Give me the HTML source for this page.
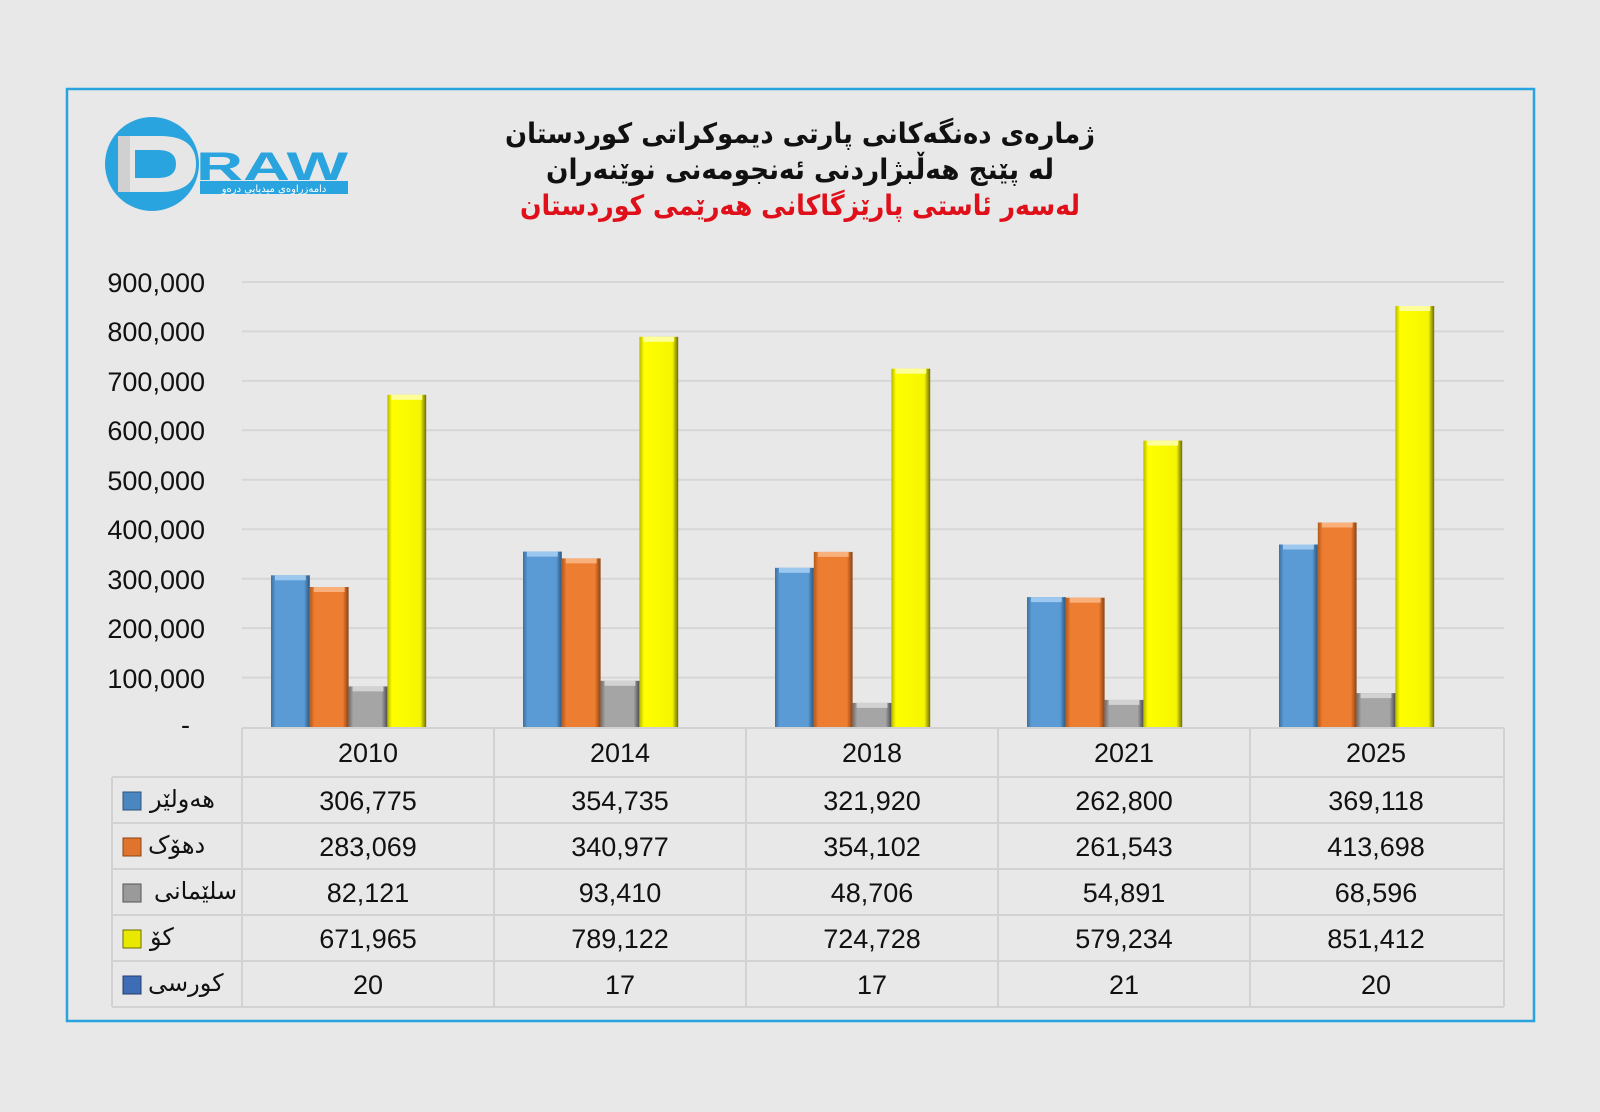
<!DOCTYPE html>
<html><head><meta charset="utf-8"><style>
html,body{margin:0;padding:0;background:#e8e8e8;}
svg{display:block;}
text{font-family:"Liberation Sans","DejaVu Sans",sans-serif;}
.ar{font-family:"DejaVu Sans","Noto Sans CJK SC",sans-serif;}
</style></head><body>
<svg width="1600" height="1112" viewBox="0 0 1600 1112" xmlns="http://www.w3.org/2000/svg">
<defs>
<linearGradient id="gb" x1="0" x2="1" y1="0" y2="0"><stop offset="0" stop-color="#3d6f9e"/><stop offset="0.12" stop-color="#5b9bd5"/><stop offset="0.85" stop-color="#5b9bd5"/><stop offset="1" stop-color="#2c557c"/></linearGradient>
<linearGradient id="go" x1="0" x2="1" y1="0" y2="0"><stop offset="0" stop-color="#b35a1d"/><stop offset="0.12" stop-color="#ed7d31"/><stop offset="0.85" stop-color="#ed7d31"/><stop offset="1" stop-color="#8a4313"/></linearGradient>
<linearGradient id="gg" x1="0" x2="1" y1="0" y2="0"><stop offset="0" stop-color="#6e6e6e"/><stop offset="0.12" stop-color="#a5a5a5"/><stop offset="0.85" stop-color="#a5a5a5"/><stop offset="1" stop-color="#4e4e4e"/></linearGradient>
<linearGradient id="gy" x1="0" x2="1" y1="0" y2="0"><stop offset="0" stop-color="#b8b800"/><stop offset="0.12" stop-color="#ffff00"/><stop offset="0.85" stop-color="#f5f500"/><stop offset="1" stop-color="#6d6d00"/></linearGradient>
</defs>
<rect x="0" y="0" width="1600" height="1112" fill="#e8e8e8"/>
<rect x="67" y="89" width="1467" height="932" fill="none" stroke="#29a3dd" stroke-width="2.5"/>

<!-- logo -->
<circle cx="152" cy="164" r="47" fill="#2aa4de"/>
<path d="M118 136 L160 136 Q196 136 196 164 Q196 192 160 192 L118 192 Z M135 150 L135 178 L158 178 Q176 178 176 164 Q176 150 158 150 Z" fill="#e6e6e6" fill-rule="evenodd"/>
<rect x="118" y="136" width="12" height="56" fill="#d0d0d0"/>
<text x="196" y="180" font-size="40" font-weight="bold" fill="#2aa4de" textLength="152" lengthAdjust="spacingAndGlyphs">RAW</text>
<rect x="200" y="181" width="148" height="13" fill="#2aa4de"/>
<text x="274" y="192" font-size="10" fill="#fff" text-anchor="middle" class="ar">دامەزراوەی میدیایی درەو</text>

<!-- title -->
<text x="800" y="143" font-size="28" font-weight="bold" text-anchor="middle" class="ar" textLength="590" lengthAdjust="spacingAndGlyphs" fill="#111">ژمارەی دەنگەکانی پارتی دیموکراتی کوردستان</text>
<text x="800" y="179" font-size="28" font-weight="bold" text-anchor="middle" class="ar" textLength="508" lengthAdjust="spacingAndGlyphs" fill="#111">لە پێنج هەڵبژاردنی ئەنجومەنی نوێنەران</text>
<text x="800" y="215" font-size="28" font-weight="bold" text-anchor="middle" class="ar" textLength="560" lengthAdjust="spacingAndGlyphs" fill="#e0101a">لەسەر ئاستی پارێزگاکانی هەرێمی کوردستان</text>

<!-- grid -->
<g stroke="#d6d6d6" stroke-width="2">
<line x1="242" x2="1504" y1="282" y2="282"/>
<line x1="242" x2="1504" y1="331.4" y2="331.4"/>
<line x1="242" x2="1504" y1="380.9" y2="380.9"/>
<line x1="242" x2="1504" y1="430.3" y2="430.3"/>
<line x1="242" x2="1504" y1="479.8" y2="479.8"/>
<line x1="242" x2="1504" y1="529.2" y2="529.2"/>
<line x1="242" x2="1504" y1="578.7" y2="578.7"/>
<line x1="242" x2="1504" y1="628.1" y2="628.1"/>
<line x1="242" x2="1504" y1="677.6" y2="677.6"/>
</g>
<g font-size="27" fill="#111" text-anchor="end">
<text x="205" y="292">900,000</text>
<text x="205" y="341">800,000</text>
<text x="205" y="391">700,000</text>
<text x="205" y="440">600,000</text>
<text x="205" y="490">500,000</text>
<text x="205" y="539">400,000</text>
<text x="205" y="589">300,000</text>
<text x="205" y="638">200,000</text>
<text x="205" y="688">100,000</text>
<text x="190" y="734">-</text>
</g>

<!-- bars -->
<g>
<rect x="271" y="575.3" width="38.8" height="151.7" fill="url(#gb)"/><rect x="275" y="575.3" width="30.8" height="5" fill="#9cc7ef"/>
<rect x="309.8" y="587" width="38.8" height="140" fill="url(#go)"/><rect x="313.8" y="587" width="30.8" height="5" fill="#f9b07a"/>
<rect x="348.6" y="686.4" width="38.8" height="40.6" fill="url(#gg)"/><rect x="352.6" y="686.4" width="30.8" height="5" fill="#d2d2d2"/>
<rect x="387.4" y="394.8" width="38.8" height="332.2" fill="url(#gy)"/><rect x="391.4" y="394.8" width="30.8" height="5" fill="#ffff99"/>

<rect x="523" y="551.6" width="38.8" height="175.4" fill="url(#gb)"/><rect x="527" y="551.6" width="30.8" height="5" fill="#9cc7ef"/>
<rect x="561.8" y="558.4" width="38.8" height="168.6" fill="url(#go)"/><rect x="565.8" y="558.4" width="30.8" height="5" fill="#f9b07a"/>
<rect x="600.6" y="680.8" width="38.8" height="46.2" fill="url(#gg)"/><rect x="604.6" y="680.8" width="30.8" height="5" fill="#d2d2d2"/>
<rect x="639.4" y="336.8" width="38.8" height="390.2" fill="url(#gy)"/><rect x="643.4" y="336.8" width="30.8" height="5" fill="#ffff99"/>

<rect x="775" y="567.8" width="38.8" height="159.2" fill="url(#gb)"/><rect x="779" y="567.8" width="30.8" height="5" fill="#9cc7ef"/>
<rect x="813.8" y="551.9" width="38.8" height="175.1" fill="url(#go)"/><rect x="817.8" y="551.9" width="30.8" height="5" fill="#f9b07a"/>
<rect x="852.6" y="702.9" width="38.8" height="24.1" fill="url(#gg)"/><rect x="856.6" y="702.9" width="30.8" height="5" fill="#d2d2d2"/>
<rect x="891.4" y="368.7" width="38.8" height="358.3" fill="url(#gy)"/><rect x="895.4" y="368.7" width="30.8" height="5" fill="#ffff99"/>

<rect x="1027" y="597.1" width="38.8" height="129.9" fill="url(#gb)"/><rect x="1031" y="597.1" width="30.8" height="5" fill="#9cc7ef"/>
<rect x="1065.8" y="597.7" width="38.8" height="129.3" fill="url(#go)"/><rect x="1069.8" y="597.7" width="30.8" height="5" fill="#f9b07a"/>
<rect x="1104.6" y="699.9" width="38.8" height="27.1" fill="url(#gg)"/><rect x="1108.6" y="699.9" width="30.8" height="5" fill="#d2d2d2"/>
<rect x="1143.4" y="440.6" width="38.8" height="286.4" fill="url(#gy)"/><rect x="1147.4" y="440.6" width="30.8" height="5" fill="#ffff99"/>

<rect x="1279" y="544.5" width="38.8" height="182.5" fill="url(#gb)"/><rect x="1283" y="544.5" width="30.8" height="5" fill="#9cc7ef"/>
<rect x="1317.8" y="522.5" width="38.8" height="204.5" fill="url(#go)"/><rect x="1321.8" y="522.5" width="30.8" height="5" fill="#f9b07a"/>
<rect x="1356.6" y="693.1" width="38.8" height="33.9" fill="url(#gg)"/><rect x="1360.6" y="693.1" width="30.8" height="5" fill="#d2d2d2"/>
<rect x="1395.4" y="306" width="38.8" height="421" fill="url(#gy)"/><rect x="1399.4" y="306" width="30.8" height="5" fill="#ffff99"/>
</g>

<!-- table -->
<g stroke="#d2d2d2" stroke-width="2" fill="none">
<line x1="242" x2="1504" y1="728" y2="728"/>
<line x1="112" x2="1504" y1="777" y2="777"/>
<line x1="112" x2="1504" y1="823" y2="823"/>
<line x1="112" x2="1504" y1="869" y2="869"/>
<line x1="112" x2="1504" y1="915" y2="915"/>
<line x1="112" x2="1504" y1="961" y2="961"/>
<line x1="112" x2="1504" y1="1007" y2="1007"/>
<line x1="112" x2="112" y1="777" y2="1007"/>
<line x1="242" x2="242" y1="728" y2="1007"/>
<line x1="494" x2="494" y1="728" y2="1007"/>
<line x1="746" x2="746" y1="728" y2="1007"/>
<line x1="998" x2="998" y1="728" y2="1007"/>
<line x1="1250" x2="1250" y1="728" y2="1007"/>
<line x1="1504" x2="1504" y1="728" y2="1007"/>
</g>
<g font-size="27" fill="#111" text-anchor="middle">
<text x="368" y="762">2010</text><text x="620" y="762">2014</text><text x="872" y="762">2018</text><text x="1124" y="762">2021</text><text x="1376" y="762">2025</text>
<text x="368" y="810">306,775</text><text x="620" y="810">354,735</text><text x="872" y="810">321,920</text><text x="1124" y="810">262,800</text><text x="1376" y="810">369,118</text>
<text x="368" y="856">283,069</text><text x="620" y="856">340,977</text><text x="872" y="856">354,102</text><text x="1124" y="856">261,543</text><text x="1376" y="856">413,698</text>
<text x="368" y="902">82,121</text><text x="620" y="902">93,410</text><text x="872" y="902">48,706</text><text x="1124" y="902">54,891</text><text x="1376" y="902">68,596</text>
<text x="368" y="948">671,965</text><text x="620" y="948">789,122</text><text x="872" y="948">724,728</text><text x="1124" y="948">579,234</text><text x="1376" y="948">851,412</text>
<text x="368" y="994">20</text><text x="620" y="994">17</text><text x="872" y="994">17</text><text x="1124" y="994">21</text><text x="1376" y="994">20</text>
</g>
<!-- legend keys -->
<rect x="123" y="792" width="18" height="18" fill="#4a86c0" stroke="#2c557c"/>
<rect x="123" y="838" width="18" height="18" fill="#e0742c" stroke="#8a4313"/>
<rect x="123" y="884" width="18" height="18" fill="#9a9a9a" stroke="#555"/>
<rect x="123" y="930" width="18" height="18" fill="#e8e800" stroke="#6d6d00"/>
<rect x="123" y="976" width="18" height="18" fill="#3f6db5" stroke="#223d6a"/>
<g font-size="24" fill="#111" class="ar">
<text x="150" y="807">هەولێر</text>
<text x="148" y="853">دهۆک</text>
<text x="154" y="899">سلێمانی</text>
<text x="150" y="945">کۆ</text>
<text x="148" y="991">کورسی</text>
</g>
</svg>
</body></html>
